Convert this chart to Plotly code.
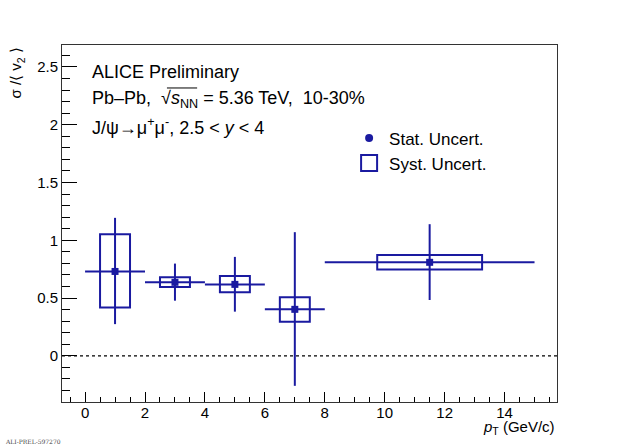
import plotly.graph_objects as go

# J/psi sigma/<v2> vs pT
pt = [1.0, 3.0, 5.0, 7.0, 11.5]
pt_lo = [0.0, 2.0, 4.0, 6.0, 8.0]
pt_hi = [2.0, 4.0, 6.0, 8.0, 15.0]
ratio = [0.73, 0.636, 0.618, 0.402, 0.809]
stat_up = [0.464, 0.162, 0.238, 0.668, 0.330]
stat_dn = [0.456, 0.159, 0.236, 0.662, 0.326]
syst_up = [0.322, 0.043, 0.073, 0.104, 0.064]
syst_dn = [0.311, 0.040, 0.069, 0.107, 0.063]
syst_halfwidth = [0.5, 0.5, 0.5, 0.5, 1.75]

blue = "#1a1aa0"
font = "Liberation Sans, Arial, Helvetica, sans-serif"

fig = go.Figure()

fig.add_trace(go.Scatter(
    x=pt, y=ratio, mode="markers", name="Stat. Uncert.",
    marker=dict(symbol="square", size=7, color=blue),
    error_x=dict(type="data", symmetric=False,
                 array=[h - x for h, x in zip(pt_hi, pt)],
                 arrayminus=[x - l for x, l in zip(pt, pt_lo)],
                 color=blue, thickness=2, width=0),
    error_y=dict(type="data", symmetric=False, array=stat_up, arrayminus=stat_dn,
                 color=blue, thickness=2, width=0),
    showlegend=False,
))

# legend entries
fig.add_trace(go.Scatter(
    x=[None], y=[None], mode="markers", name="Stat. Uncert.",
    marker=dict(symbol="circle", size=8, color=blue),
))
fig.add_trace(go.Scatter(
    x=[None], y=[None], mode="markers", name="Syst. Uncert.",
    marker=dict(symbol="square-open", size=20, color=blue, line=dict(width=2, color=blue)),
))

for x, y, w, up, dn in zip(pt, ratio, syst_halfwidth, syst_up, syst_dn):
    fig.add_shape(type="rect", xref="x", yref="y", x0=x - w, x1=x + w,
                  y0=y - dn, y1=y + up, line=dict(color=blue, width=2))

fig.add_shape(type="line", xref="paper", yref="y", x0=0, x1=1, y0=0, y1=0,
              line=dict(color="black", width=1.3, dash="3px,3px"))

fig.add_annotation(x=0.057, y=0.925, xref="paper", yref="paper", xanchor="left", yanchor="middle",
                   text="ALICE Preliminary", showarrow=False, font=dict(size=18, color="black"))
fig.add_annotation(x=0.057, y=0.848, xref="paper", yref="paper", xanchor="left", yanchor="middle",
                   text="Pb\u2013Pb,  \u221A<i>s</i><sub>NN</sub> = 5.36 TeV,  10-30%",
                   showarrow=False, font=dict(size=18, color="black"))
# overline of the square root
fig.add_shape(type="line", xref="paper", yref="paper", x0=0.212, x1=0.273, y0=0.8796, y1=0.8796,
              line=dict(color="black", width=1))
fig.add_annotation(x=0.057, y=0.773, xref="paper", yref="paper", xanchor="left", yanchor="middle",
                   text="J/\u03C8\u2192\u03BC<sup>+</sup>\u03BC<sup>-</sup>, 2.5 < <i>y</i> < 4",
                   showarrow=False, font=dict(size=18, color="black"))

fig.add_annotation(x=-0.091, y=1.0, xref="paper", yref="paper", xanchor="center", yanchor="top",
                   text="\u03C3 /\u27E8 v<sub>2</sub> \u27E9", textangle=-90, showarrow=False,
                   font=dict(size=15, color="black"))
fig.add_annotation(x=1.0, y=-0.04, xref="paper", yref="paper", xanchor="right", yanchor="top",
                   text="<i>p</i><sub>T</sub> (GeV/c)", showarrow=False,
                   font=dict(size=15, color="black"))
fig.add_annotation(x=-0.12, y=-0.095, xref="paper", yref="paper", xanchor="left", yanchor="top",
                   text="ALI-PREL-597270", showarrow=False,
                   font=dict(size=6, color="#444", family="DejaVu Serif"))

fig.update_layout(
    width=620, height=448,
    margin=dict(l=62, r=63, t=45, b=46),
    paper_bgcolor="white", plot_bgcolor="white",
    font=dict(family=font, size=15, color="black"),
    showlegend=True,
    legend=dict(x=0.58, y=0.789, xanchor="left", yanchor="top",
                bgcolor="rgba(0,0,0,0)", font=dict(size=17), itemsizing="trace"),
    xaxis=dict(range=[-0.77, 15.75], dtick=2, tick0=0, ticks="inside", ticklen=10,
               tickcolor="black", showgrid=False, zeroline=False, ticklabelstandoff=-3,
               showline=True, linecolor="#333", linewidth=1, mirror=True,
               minor=dict(dtick=0.5, ticks="inside", ticklen=5, tickcolor="black")),
    yaxis=dict(range=[-0.4, 2.69], dtick=0.5, tick0=0, ticks="inside", ticklen=15,
               tickcolor="black", showgrid=False, zeroline=False,
               showline=True, linecolor="#333", linewidth=1, mirror=True,
               minor=dict(dtick=0.1, ticks="inside", ticklen=8, tickcolor="black")),
)

fig.write_html("out.html", config={"displayModeBar": False},
               post_script="document.body.style.margin='0';")
